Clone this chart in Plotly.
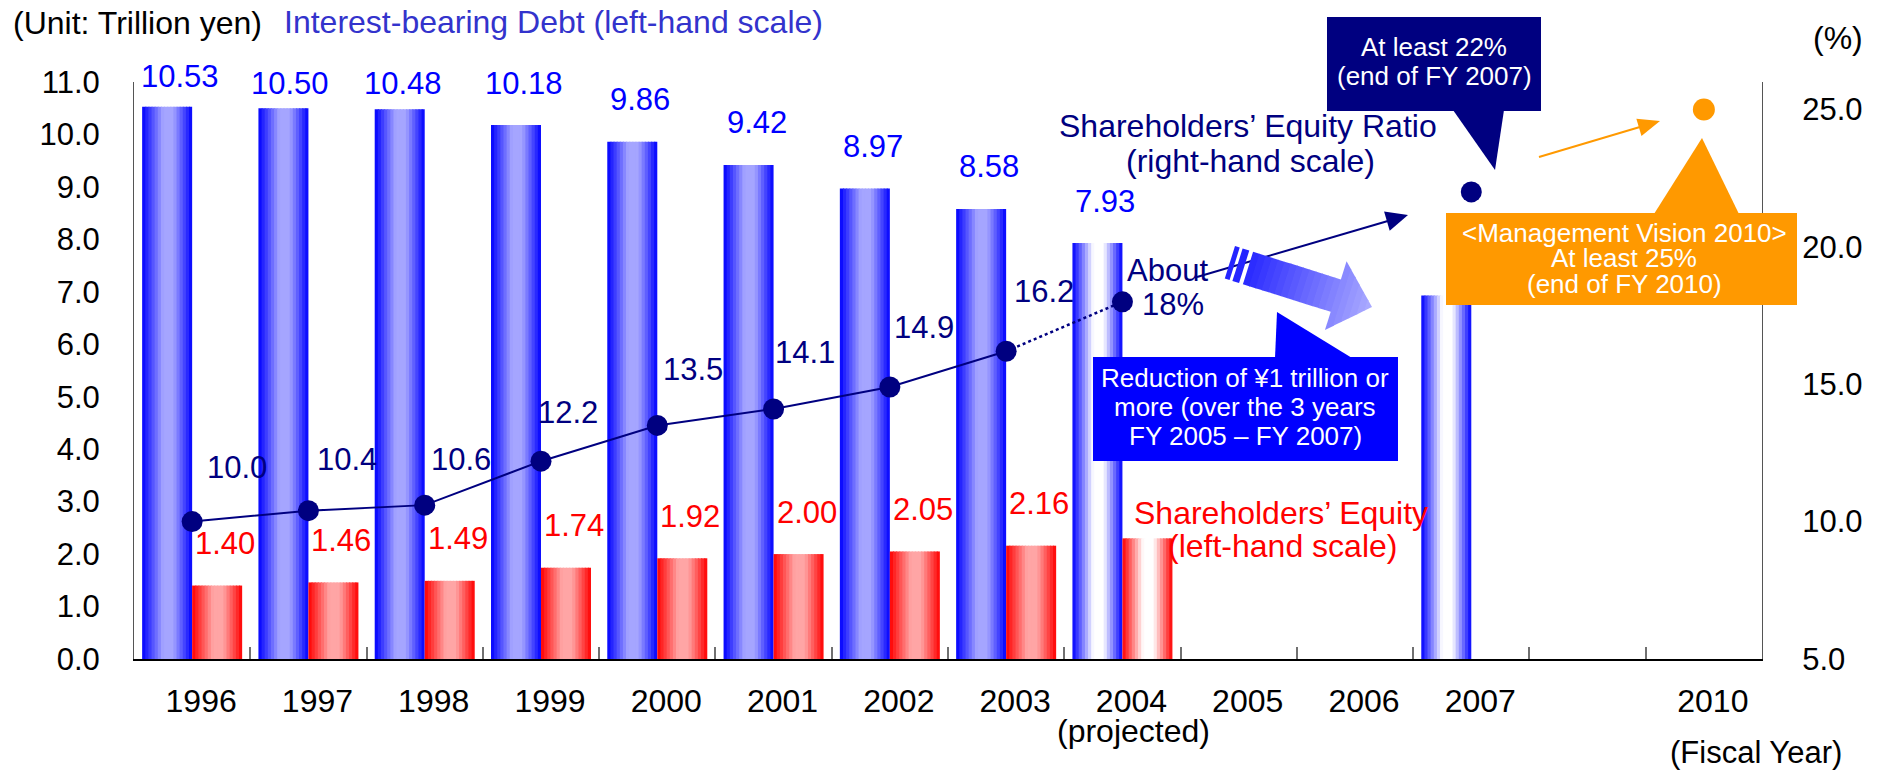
import plotly.graph_objects as go

# ---------------- data ----------------
years = ["1996", "1997", "1998", "1999", "2000", "2001", "2002", "2003",
         "2004", "2005", "2006", "2007", "", "2010"]
debt = [10.53, 10.50, 10.48, 10.18, 9.86, 9.42, 8.97, 8.58, 7.93,
        None, None, 6.93, None, None]
equity = [1.40, 1.46, 1.49, 1.74, 1.92, 2.00, 2.05, 2.16, 2.30,
          None, None, None, None, None]
ratio_years = ["1996", "1997", "1998", "1999", "2000", "2001", "2002", "2003"]
ratio_values = [10.0, 10.4, 10.6, 12.2, 13.5, 14.1, 14.9, 16.2]
ratio_projected_year = "2004"
ratio_projected = 18.0
target_2007_year = "2007"
target_2007 = 22.0
target_2010_year = "2010"
target_2010 = 25.0
projected_bars = ["2004", "2007"]          # drawn with white-centred gradient
debt_labelled_until = "2004"
equity_labelled_until = "2003"
left_ticks = [0, 1, 2, 3, 4, 5, 6, 7, 8, 9, 10, 11]
right_ticks = [5, 10, 15, 20, 25]

pos = {y: i for i, y in enumerate(years)}
xs = list(range(len(years)))

# ---------------- styles ----------------
FONT = "Arial, 'Liberation Sans', sans-serif"
NAVY = "#000080"
BLUE = "#0000FF"
RED = "#FF0000"
ORANGE = "#FF9900"
BAR_W = 0.43
N_STRIPS = 16

# plot area in page pixels (for decorations only)
PX_L, PX_R, PX_T, PX_B = 134, 1762, 82, 659


def px(x):
    return (x - PX_L) / (PX_R - PX_L)


def py(y):
    return (PX_B - y) / (PX_B - PX_T)


def poly(pts):
    return "M " + " L ".join(f"{px(a):.5f},{py(b):.5f}" for a, b in pts) + " Z"


def mix(c1, c2, t):
    return "rgb(%d,%d,%d)" % tuple(round(a + (b - a) * t) for a, b in zip(c1, c2))


def profile(t):
    if t < 0.42:
        return t / 0.42
    if t < 0.62:
        return 1.0
    return max(0.0, (1 - t) / 0.38)


fig = go.Figure()

# ---------------- gradient bars (strips of bar traces) ----------------
series = [
    (debt, (0, 0, 255), (165, 165, 255), -BAR_W),
    (equity, (255, 0, 0), (255, 165, 165), 0.0),
]
for values, edge, light, start in series:
    for i in range(N_STRIPS):
        t = (i + 0.5) / N_STRIPS
        cols = []
        for y in years:
            lc = (255, 255, 255) if y in projected_bars else light
            cols.append(mix(edge, lc, profile(t)))
        w = BAR_W / N_STRIPS
        fig.add_trace(go.Bar(
            x=xs, y=values,
            width=w * (1.35 if i < N_STRIPS - 1 else 1.0),
            offset=start + i * w,
            marker=dict(color=cols, line=dict(width=0)),
            yaxis="y", hoverinfo="skip", showlegend=False,
        ))

# ---------------- equity ratio line ----------------
rx = [pos[y] for y in ratio_years]
fig.add_trace(go.Scatter(
    x=[rx[-1], pos[ratio_projected_year]], y=[ratio_values[-1], ratio_projected],
    mode="lines", line=dict(color=NAVY, width=2.5, dash="dot"),
    yaxis="y2", hoverinfo="skip", showlegend=False))
fig.add_trace(go.Scatter(
    x=rx, y=ratio_values,
    mode="lines", line=dict(color=NAVY, width=2),
    yaxis="y2", hoverinfo="skip", showlegend=False))
fig.add_trace(go.Scatter(
    x=rx + [pos[ratio_projected_year], pos[target_2007_year]],
    y=ratio_values + [ratio_projected, target_2007],
    mode="markers", marker=dict(color=NAVY, size=21),
    yaxis="y2", hoverinfo="skip", showlegend=False))
fig.add_trace(go.Scatter(
    x=[pos[target_2010_year]], y=[target_2010],
    mode="markers", marker=dict(color=ORANGE, size=22),
    yaxis="y2", hoverinfo="skip", showlegend=False))

annotations = []


def label(x, y, text, color, size, yref="y", xshift=0, yshift=0):
    annotations.append(dict(x=x, y=y, xref="x", yref=yref, text=text,
                            showarrow=False, xshift=xshift, yshift=yshift,
                            font=dict(color=color, size=size, family=FONT)))


def ptext(x, y, text, color, size=32):
    annotations.append(dict(x=px(x), y=py(y), xref="paper", yref="paper",
                            text=text, showarrow=False, xanchor="center",
                            yanchor="middle",
                            font=dict(color=color, size=size, family=FONT)))


# value labels
DEBT_NUDGE = {0: (13, 30), 1: (7, 25), 2: (3, 26)}
for i, v in enumerate(debt):
    if v is None or i > pos[debt_labelled_until]:
        continue
    dx, dy = DEBT_NUDGE.get(i, (8, 42))
    label(i - BAR_W / 2, v, f"{v:.2f}", BLUE, 31, xshift=dx, yshift=dy)
for i, v in enumerate(equity):
    if v is None or i > pos[equity_labelled_until]:
        continue
    label(i + BAR_W / 2, v, f"{v:.2f}", RED, 31, xshift=8, yshift=42)
RATIO_NUDGE = [(45, 54), (39, 51), (36, 46), (27, 49), (36, 56), (31, 56), (34, 59), (38, 60)]
for (x, v), (dx, dy) in zip(zip(rx, ratio_values), RATIO_NUDGE):
    label(x, v, f"{v:.1f}", NAVY, 31, yref="y2", xshift=dx, yshift=dy)

# free texts
ptext(137, 23, "(Unit: Trillion yen)", "black")
ptext(553, 22, "Interest-bearing Debt (left-hand scale)", "#3333CC")
ptext(1838, 38, "(%)", "black")
ptext(1248, 126, "Shareholders’ Equity Ratio", NAVY)
ptext(1250, 161, "(right-hand scale)", NAVY)
ptext(1167, 270, "About", NAVY, 31)
ptext(1173, 304, "18%", NAVY, 31)
ptext(1281, 513, "Shareholders’ Equity", RED)
ptext(1282, 546, "(left-hand scale)", RED)
ptext(1133, 731, "(projected)", "black")
ptext(1756, 752, "(Fiscal Year)", "black", 31)
ptext(1434, 47, "At least 22%", "white", 26)
ptext(1434, 76, "(end of FY 2007)", "white", 26)
ptext(1624, 233, "&lt;Management Vision 2010&gt;", "white", 26)
ptext(1624, 258, "At least 25%", "white", 26)
ptext(1624, 284, "(end of FY 2010)", "white", 26)
ptext(1245, 378, "Reduction of ¥1 trillion or", "white", 26)
ptext(1245, 407, "more (over the 3 years", "white", 26)
ptext(1245, 436, "FY 2005 – FY 2007)", "white", 26)

# ---------------- decorative shapes ----------------
shapes = []


def add_poly(pts, color):
    shapes.append(dict(type="path", xref="paper", yref="paper", path=poly(pts),
                       fillcolor=color, line=dict(width=0), layer="above"))


def add_line(p, q, color, width):
    shapes.append(dict(type="line", xref="paper", yref="paper",
                       x0=px(p[0]), y0=py(p[1]), x1=px(q[0]), y1=py(q[1]),
                       line=dict(color=color, width=width), layer="above"))


def arrow(p, tip, color, width, head_len, head_half):
    dx, dy = tip[0] - p[0], tip[1] - p[1]
    d = (dx * dx + dy * dy) ** 0.5
    ux, uy = dx / d, dy / d
    bx, by = tip[0] - ux * head_len, tip[1] - uy * head_len
    add_line(p, (bx + ux, by + uy), color, width)
    add_poly([tip, (bx - uy * head_half, by + ux * head_half),
              (bx + uy * head_half, by - ux * head_half)], color)


# navy arrow towards 2007 target
arrow((1197, 277), (1408, 215), NAVY, 2, 22, 10)
# orange arrow towards 2010 target
arrow((1539, 157), (1660, 121), ORANGE, 2, 22, 9)

# big gradient arrow with break marks
P0 = (1248.0, 268.0)
TIP = (1372.0, 307.0)
L = ((TIP[0] - P0[0]) ** 2 + (TIP[1] - P0[1]) ** 2) ** 0.5
U = ((TIP[0] - P0[0]) / L, (TIP[1] - P0[1]) / L)
NV = (-U[1], U[0])
BODY_LEN, BODY_HALF, HEAD_HALF = 92.0, 17.0, 36.0


def apt(s, h):
    return (P0[0] + s * U[0] + h * NV[0], P0[1] + s * U[1] + h * NV[1])


c_tail, c_head = (40, 40, 255), (172, 172, 255)
nb = 14
for k in range(nb):
    sa = BODY_LEN * k / nb
    sb = BODY_LEN * (k + 1) / nb + 0.8
    add_poly([apt(sa, -BODY_HALF), apt(sb, -BODY_HALF), apt(sb, BODY_HALF), apt(sa, BODY_HALF)],
             mix(c_tail, c_head, (sa + sb) / 2 / L))
nh = 6
hl = L - BODY_LEN
for k in range(nh):
    sa = BODY_LEN + hl * k / nh
    sb = min(L, BODY_LEN + hl * (k + 1) / nh + (0.8 if k < nh - 1 else 0))
    ha = HEAD_HALF * (L - sa) / hl
    hb = HEAD_HALF * (L - sb) / hl
    add_poly([apt(sa, -ha), apt(sb, -hb), apt(sb, hb), apt(sa, ha)],
             mix(c_tail, c_head, (sa + sb) / 2 / L))
for sa, sb in [(-19, -14), (-11, -4)]:
    add_poly([apt(sa, -BODY_HALF), apt(sb, -BODY_HALF), apt(sb, BODY_HALF), apt(sa, BODY_HALF)],
             "#2424FF")

# callout boxes
add_poly([(1327, 17), (1541, 17), (1541, 111), (1327, 111)], NAVY)
add_poly([(1453, 110), (1504, 110), (1495, 170)], NAVY)
add_poly([(1446, 213), (1797, 213), (1797, 305), (1446, 305)], ORANGE)
add_poly([(1654, 214), (1739, 214), (1702, 138)], ORANGE)
add_poly([(1093, 357), (1398, 357), (1398, 461), (1093, 461)], BLUE)
add_poly([(1275, 358), (1352, 358), (1277, 312)], BLUE)

# ---------------- layout ----------------
tickvals = [i for i, y in enumerate(years) if y]
ticktext = [y for y in years if y]
fig.update_layout(
    width=1888, height=771,
    margin=dict(l=PX_L, r=1888 - PX_R, t=PX_T, b=771 - PX_B, pad=0),
    paper_bgcolor="white", plot_bgcolor="white",
    barmode="overlay", showlegend=False,
    font=dict(family=FONT, size=31, color="black"),
    xaxis=dict(range=[-0.5, len(years) - 0.5], tickmode="array",
               tickvals=tickvals, ticktext=ticktext, ticks="",
               showline=True, linecolor="black", linewidth=2,
               showgrid=False, zeroline=False,
               tickfont=dict(size=32, color="black", family=FONT),
               ticklabelshift=9, ticklabelstandoff=13,
               minor=dict(tickvals=[i + 0.5 for i in range(len(years) - 1)],
                          ticks="inside", ticklen=12, tickcolor="#707070",
                          tickwidth=1.5, showgrid=False)),
    yaxis=dict(range=[0, 11], tickmode="array", tickvals=left_ticks,
               tickformat=".1f", ticks="", showline=True,
               linecolor="#555555", linewidth=1, showgrid=False,
               zeroline=False, ticklabelstandoff=27,
               tickfont=dict(size=31, color="black", family=FONT)),
    yaxis2=dict(range=[5, 26], overlaying="y", side="right",
                tickmode="array", tickvals=right_ticks, tickformat=".1f",
                ticks="", showline=True, linecolor="#555555", linewidth=1,
                showgrid=False, zeroline=False, ticklabelstandoff=33,
                tickfont=dict(size=31, color="black", family=FONT)),
    annotations=annotations,
    shapes=shapes,
)

fig.write_html("out.html", config={"displayModeBar": False},
               post_script="document.body.style.margin='0';document.body.style.overflow='hidden';")
